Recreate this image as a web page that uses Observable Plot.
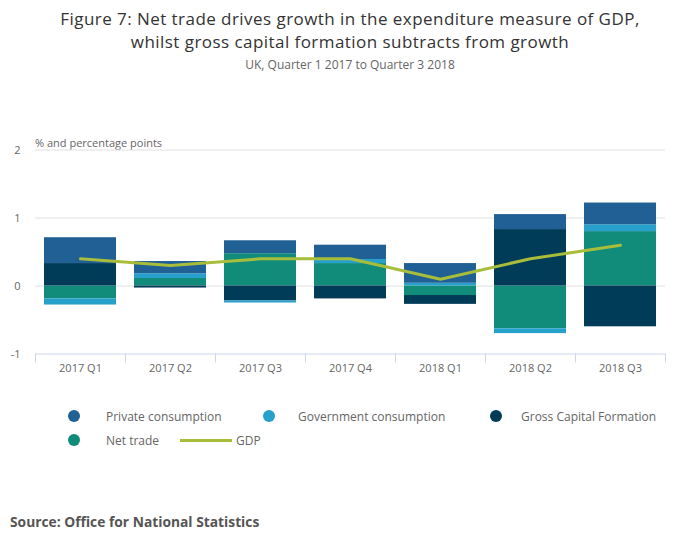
<!DOCTYPE html>
<html>
<head>
<meta charset="utf-8">
<script src="https://cdn.jsdelivr.net/npm/d3@7"></script>
<script src="https://cdn.jsdelivr.net/npm/@observablehq/plot@0.6"></script>
<style>
  body { margin: 0; background: #fff; font-family: "Open Sans", sans-serif; }
  #wrap { position: relative; width: 700px; height: 549px; overflow: hidden; }
  .abs { position: absolute; white-space: nowrap; }
  .title { left: 0; width: 700px; text-align: center; font-size: 17px; letter-spacing: 0.45px; line-height: 24px; color: #333; }
  #subtitle { left: 0; width: 700px; top: 56px; text-align: center; font-size: 12px; color: #666; }
  #ylabel { left: 35px; top: 135px; font-size: 11px; color: #666; }
  #chart { left: 0; top: 130px; }
  .leg { font-size: 12px; color: #666; display: flex; align-items: center; }
  .dot { width: 12px; height: 12px; border-radius: 50%; display: inline-block; }
  #source { left: 10px; top: 512px; font-size: 13.8px; font-weight: bold; color: #555; }
</style>
</head>
<body>
<div id="wrap">
  <div class="abs title" style="top:6.5px">Figure 7: Net trade drives growth in the expenditure measure of GDP,</div>
  <div class="abs title" style="top:30px">whilst gross capital formation subtracts from growth</div>
  <div id="subtitle" class="abs">UK, Quarter 1 2017 to Quarter 3 2018</div>
  <div id="ylabel" class="abs">% and percentage points</div>
  <div id="chart" class="abs"></div>
  <div id="source" class="abs">Source: Office for National Statistics</div>
</div>
<script>
const quarters = ["2017 Q1", "2017 Q2", "2017 Q3", "2017 Q4", "2018 Q1", "2018 Q2", "2018 Q3"];
const privateConsumption = [0.38, 0.18, 0.19, 0.21, 0.29, 0.22, 0.32];
const governmentConsumption = [-0.09, 0.07, -0.03, 0.06, 0.04, -0.07, 0.10];
const grossCapitalFormation = [0.33, -0.03, -0.22, -0.19, -0.13, 0.83, -0.60];
const netTrade = [-0.19, 0.11, 0.475, 0.33, -0.14, -0.63, 0.80];
const gdp = [0.4, 0.3, 0.4, 0.4, 0.1, 0.4, 0.6];
const yTicks = [-1, 0, 1, 2];

const seriesNames = ["Private consumption", "Government consumption", "Gross Capital Formation", "Net trade"];
const seriesColors = ["#206095", "#27a0cc", "#003c57", "#118c7b"];
const gdpColor = "#a8bd3a";

// stacking order from zero outward: net trade, GCF, government, private
const stackOrder = [
  ["Net trade", netTrade],
  ["Gross Capital Formation", grossCapitalFormation],
  ["Government consumption", governmentConsumption],
  ["Private consumption", privateConsumption]
];
const barData = [];
for (const [name, vals] of stackOrder) {
  quarters.forEach((q, i) => barData.push({quarter: q, series: name, value: vals[i]}));
}
const gdpData = quarters.map((q, i) => ({quarter: q, value: gdp[i]}));

const W = 700, ML = 35, MR = 35;
const step = (W - ML - MR) / quarters.length;

const chart = Plot.plot({
  width: W,
  height: 260,
  marginLeft: ML,
  marginRight: MR,
  marginTop: 19.5,
  marginBottom: 36.5,
  style: {fontFamily: "Open Sans, sans-serif", fontSize: "11px", color: "#666", background: "transparent"},
  x: {domain: quarters, paddingInner: 0.2, paddingOuter: 0.1, label: null},
  y: {domain: [-1, 2], label: null},
  color: {domain: seriesNames, range: seriesColors},
  marks: [
    Plot.ruleY(yTicks.filter(d => d > -1), {stroke: "#e0e0e0", strokeWidth: 1}),
    Plot.barY(barData, Plot.stackY({x: "quarter", y: "value", fill: "series", order: null})),
    Plot.line(gdpData, {x: "quarter", y: "value", stroke: gdpColor, strokeWidth: 3}),
    Plot.ruleY([-1], {stroke: "#ccd6eb", strokeWidth: 1}),
    Plot.axisX(quarters, {tickSize: 9, text: null, dx: -step / 2, stroke: "#ccd6eb"}),
    Plot.axisX(quarters.slice(-1), {tickSize: 9, text: null, dx: step / 2, stroke: "#ccd6eb"}),
    Plot.axisX({tickSize: 0, tickPadding: 10, fill: "#666", fontSize: 11}),
    Plot.axisY(yTicks, {tickSize: 0, tickPadding: 15, fill: "#666", fontSize: 11, tickFormat: d => String(d)})
  ]
});
document.getElementById("chart").appendChild(chart);

// legend
const wrap = document.getElementById("wrap");
const legendItems = [
  {name: seriesNames[0], color: seriesColors[0], dx: 68, tx: 106, y: 409},
  {name: seriesNames[1], color: seriesColors[1], dx: 263, tx: 298, y: 409},
  {name: seriesNames[2], color: seriesColors[2], dx: 490, tx: 521, y: 409},
  {name: seriesNames[3], color: seriesColors[3], dx: 68, tx: 106, y: 433}
];
for (const it of legendItems) {
  const d = document.createElement("div");
  d.className = "abs dot";
  d.style.left = it.dx + "px"; d.style.top = (it.y + 1) + "px"; d.style.background = it.color;
  wrap.appendChild(d);
  const t = document.createElement("div");
  t.className = "abs leg";
  t.style.left = it.tx + "px"; t.style.top = (it.y - 1) + "px";
  t.textContent = it.name;
  wrap.appendChild(t);
}
const ln = document.createElement("div");
ln.className = "abs";
ln.style.left = "180px"; ln.style.top = "439px"; ln.style.width = "52px"; ln.style.height = "3px"; ln.style.background = gdpColor;
wrap.appendChild(ln);
const gt = document.createElement("div");
gt.className = "abs leg";
gt.style.left = "236px"; gt.style.top = "432px";
gt.textContent = "GDP";
wrap.appendChild(gt);
</script>
</body>
</html>
